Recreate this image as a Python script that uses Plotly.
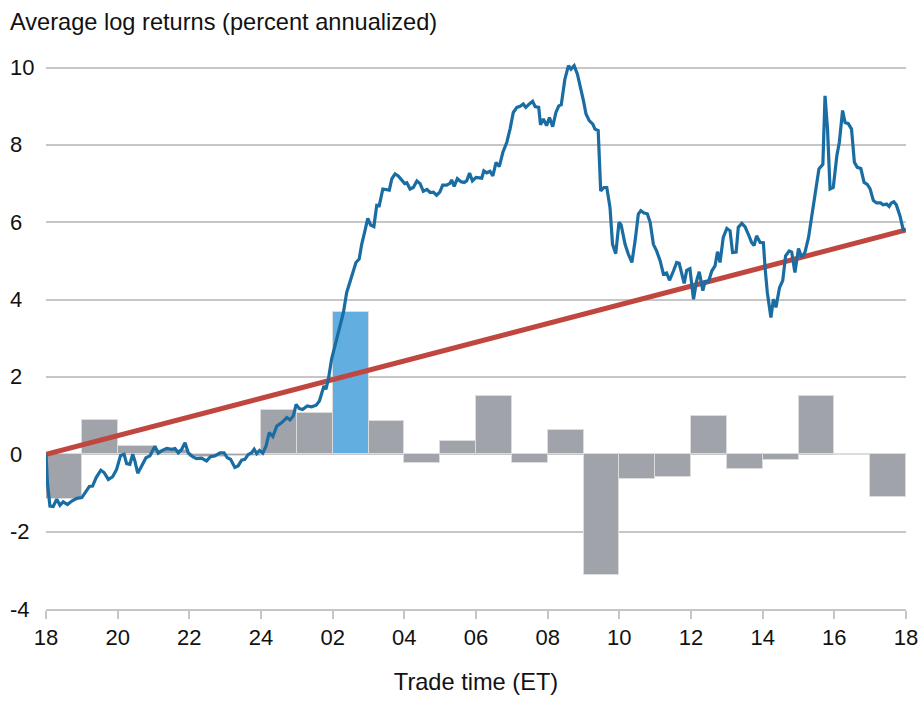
import plotly.graph_objects as go

# Hourly bars (hour offset from 18:00 ET)
bar_hours = list(range(24))
bar_values = [-1.15, 0.88, 0.22, 0.12, -0.06, -0.04, 1.15, 1.06, 3.69, 0.86, -0.23, 0.35,
              1.50, -0.22, 0.64, -3.13, -0.65, -0.59, 0.99, -0.39, -0.15, 1.51, -0.02, -1.10]
highlight_hour = 8

# Cumulative average log return path
line_hours = [0.00, 0.04, 0.11, 0.20, 0.30, 0.39, 0.48, 0.60, 0.72, 0.86, 1.00, 1.09, 1.21, 1.30, 1.40,
              1.53, 1.62, 1.74, 1.86, 1.97, 2.08, 2.18, 2.25, 2.34, 2.42, 2.48, 2.56, 2.67, 2.79, 2.90,
              3.04, 3.13, 3.26, 3.37, 3.51, 3.60, 3.69, 3.78, 3.88, 3.97, 4.09, 4.20, 4.34, 4.48, 4.59,
              4.71, 4.86, 4.97, 5.06, 5.15, 5.27, 5.36, 5.46, 5.55, 5.64, 5.74, 5.81, 5.88, 5.96, 6.05,
              6.14, 6.23, 6.33, 6.44, 6.58, 6.72, 6.81, 6.90, 6.98, 7.07, 7.16, 7.29, 7.41, 7.54, 7.63,
              7.70, 7.76, 7.81, 7.88, 7.97, 8.07, 8.19, 8.30, 8.39, 8.48, 8.58, 8.65, 8.74, 8.81, 8.90,
              8.98, 9.06, 9.15, 9.23, 9.30, 9.40, 9.51, 9.58, 9.65, 9.74, 9.83, 9.93, 10.01, 10.07, 10.16,
              10.25, 10.35, 10.44, 10.53, 10.63, 10.72, 10.81, 10.90, 10.99, 11.07, 11.18, 11.28, 11.32,
              11.39, 11.48, 11.58, 11.67, 11.74, 11.82, 11.90, 12.00, 12.11, 12.16, 12.22, 12.30, 12.39,
              12.47, 12.56, 12.65, 12.75, 12.86, 12.95, 13.04, 13.14, 13.23, 13.32, 13.39, 13.49, 13.58,
              13.65, 13.75, 13.80, 13.88, 13.97, 14.05, 14.14, 14.23, 14.31, 14.38, 14.48, 14.58, 14.65,
              14.74, 14.83, 14.92, 15.00, 15.07, 15.16, 15.26, 15.32, 15.41, 15.48, 15.57, 15.65, 15.74,
              15.81, 15.90, 15.99, 16.05, 16.16, 16.25, 16.35, 16.44, 16.53, 16.60, 16.69, 16.78, 16.86,
              16.95, 17.04, 17.14, 17.23, 17.32, 17.40, 17.51, 17.60, 17.67, 17.74, 17.81, 17.88, 17.97,
              18.07, 18.16, 18.23, 18.33, 18.39, 18.49, 18.58, 18.67, 18.74, 18.81, 18.90, 19.00, 19.09,
              19.16, 19.26, 19.32, 19.42, 19.51, 19.60, 19.69, 19.76, 19.83, 19.93, 20.02, 20.07, 20.13,
              20.23, 20.30, 20.37, 20.47, 20.56, 20.64, 20.74, 20.81, 20.90, 21.00, 21.09, 21.18, 21.28,
              21.34, 21.42, 21.51, 21.57, 21.68, 21.74, 21.81, 21.88, 21.97, 22.07, 22.14, 22.23, 22.30,
              22.39, 22.48, 22.56, 22.64, 22.74, 22.83, 22.92, 23.00, 23.09, 23.18, 23.29, 23.36, 23.46,
              23.53, 23.59, 23.66, 23.73, 23.83, 23.92, 23.97]
line_values = [0.00, -0.73, -1.34, -1.35, -1.16, -1.32, -1.23, -1.30, -1.21, -1.14, -1.12, -0.99, -0.83,
               -0.82, -0.60, -0.41, -0.47, -0.65, -0.58, -0.39, -0.03, 0.00, -0.24, -0.26, 0.00, -0.17,
               -0.49, -0.30, -0.09, -0.04, 0.21, 0.03, 0.11, 0.15, 0.13, 0.15, 0.04, 0.12, 0.30, 0.04,
               -0.06, -0.11, -0.10, -0.17, -0.06, -0.04, 0.04, 0.04, -0.09, -0.13, -0.34, -0.30, -0.15,
               -0.13, -0.01, 0.04, 0.13, 0.02, 0.10, 0.03, 0.21, 0.56, 0.46, 0.73, 0.82, 0.95, 0.89,
               0.99, 1.29, 1.18, 1.16, 1.25, 1.23, 1.27, 1.38, 1.60, 1.77, 1.68, 1.94, 2.46, 2.85, 3.23,
               3.67, 4.18, 4.44, 4.70, 4.96, 5.05, 5.43, 5.78, 6.10, 5.93, 5.89, 6.44, 6.43, 6.86, 6.85,
               6.83, 7.12, 7.25, 7.20, 7.07, 7.00, 7.02, 6.86, 6.90, 7.07, 7.00, 6.80, 6.85, 6.77, 6.78,
               6.70, 6.78, 6.96, 6.96, 7.01, 7.10, 6.93, 7.13, 7.05, 7.03, 7.07, 7.27, 7.07, 7.16, 7.15,
               7.14, 7.33, 7.28, 7.32, 7.20, 7.55, 7.44, 7.81, 8.07, 8.41, 8.84, 8.97, 9.00, 9.06, 8.97,
               9.06, 9.13, 8.99, 8.97, 8.52, 8.67, 8.50, 8.71, 8.47, 8.84, 9.01, 9.04, 9.70, 10.05, 9.96,
               10.05, 9.83, 9.49, 9.14, 8.80, 8.63, 8.54, 8.41, 8.37, 6.81, 6.90, 6.90, 6.38, 5.43, 5.19,
               6.00, 5.93, 5.43, 5.18, 4.96, 5.52, 6.21, 6.30, 6.24, 6.22, 6.00, 5.43, 5.26, 5.00, 4.66,
               4.69, 4.50, 4.74, 4.96, 4.94, 4.66, 4.42, 4.76, 4.80, 4.01, 4.50, 4.72, 4.23, 4.46, 4.47,
               4.74, 4.87, 5.24, 4.96, 5.61, 5.84, 5.78, 5.22, 5.23, 5.87, 5.97, 5.88, 5.69, 5.48, 5.40,
               5.65, 5.48, 5.47, 4.79, 4.18, 3.54, 4.01, 3.80, 4.31, 4.49, 5.13, 5.26, 5.23, 4.70, 5.32,
               5.09, 5.22, 5.61, 5.95, 6.47, 7.03, 7.38, 7.50, 9.27, 8.41, 6.86, 6.90, 7.72, 8.07, 8.89,
               8.58, 8.55, 8.41, 7.55, 7.42, 7.39, 7.03, 6.98, 6.86, 6.56, 6.50, 6.50, 6.45, 6.47, 6.41,
               6.50, 6.53, 6.45, 6.17, 5.82, 5.78]

# Straight line connecting start and end of the day
trend_hours = [0, 24]
trend_values = [0.0, 5.8]

tick_positions = list(range(0, 25, 2))
tick_labels = ["18", "20", "22", "24", "02", "04", "06", "08", "10", "12", "14", "16", "18"]
y_ticks = [10, 8, 6, 4, 2, 0, -2, -4]

FONT = "Liberation Sans, Arial, sans-serif"
GRID = "#c6c6c6"

bar_colors = ["#62aee0" if h == highlight_hour else "#a0a3aa" for h in bar_hours]

fig = go.Figure()
fig.add_trace(go.Bar(
    x=[h + 0.5 for h in bar_hours], y=bar_values, width=1.0,
    marker=dict(color=bar_colors, line=dict(color="#dcdcdc", width=1)),
    hoverinfo="skip", showlegend=False))
fig.add_trace(go.Scatter(
    x=trend_hours, y=trend_values, mode="lines",
    line=dict(color="#c0473f", width=5), showlegend=False))
fig.add_trace(go.Scatter(
    x=line_hours, y=line_values, mode="lines",
    line=dict(color="#1a6da3", width=3.2), showlegend=False))

annotations = [dict(
    text="Average log returns (percent annualized)", xref="paper", yref="paper",
    x=-0.0442, y=1.062, xanchor="left", yanchor="middle", showarrow=False,
    font=dict(family=FONT, size=23.6, color="#111111"))]
for v in y_ticks:
    annotations.append(dict(
        text=str(v), xref="paper", yref="y", x=-0.0442, y=v,
        xanchor="left", yanchor="middle", showarrow=False,
        font=dict(family=FONT, size=22, color="#111111")))

fig.update_layout(
    width=920, height=702,
    margin=dict(l=46, r=14, t=56, b=93, autoexpand=False),
    paper_bgcolor="white", plot_bgcolor="white",
    font=dict(family=FONT, size=22, color="#111111"),
    bargap=0,
    annotations=annotations,
    xaxis=dict(
        range=[0, 24], tickvals=tick_positions, ticktext=tick_labels, automargin=False,
        showgrid=False, zeroline=False, showline=True, linecolor=GRID, linewidth=2,
        ticks="outside", ticklen=8, tickwidth=2, tickcolor=GRID,
        tickfont=dict(family=FONT, size=22, color="#111111"),
        title=dict(text="Trade time (ET)", standoff=24,
                   font=dict(family=FONT, size=23.6, color="#111111")),
    ),
    yaxis=dict(
        range=[-4, 10.3], tickvals=y_ticks, showticklabels=False, automargin=False,
        showgrid=True, gridcolor=GRID, gridwidth=2, zeroline=False, ticks="",
    ),
)

fig.write_html("out.html")
